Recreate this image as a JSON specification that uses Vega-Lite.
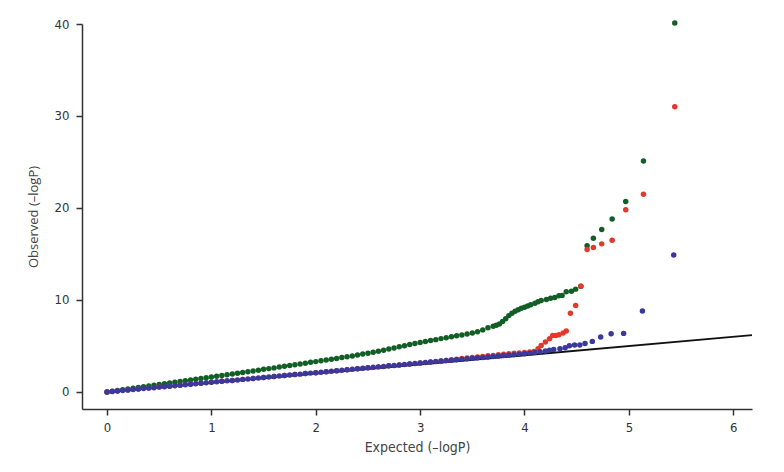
{
  "$schema": "https://vega.github.io/schema/vega-lite/v6.json",
  "width": 670,
  "height": 385,
  "autosize": {"type": "none"},
  "padding": {"left": 82, "top": 24, "right": 32, "bottom": 63},
  "background": "#ffffff",
  "config": {
    "view": {"stroke": null},
    "axis": {
      "grid": false,
      "domainColor": "#333333",
      "domainWidth": 1.5,
      "tickColor": "#333333",
      "tickWidth": 1.5,
      "tickSize": 6,
      "labelFont": "DejaVu Sans Condensed, Roboto, sans-serif",
      "labelFontSize": 13,
      "labelColor": "#333333",
      "titleFont": "DejaVu Sans Condensed, Roboto, sans-serif",
      "titleFontSize": 14,
      "titleFontWeight": "normal",
      "titleColor": "#444444"
    }
  },
  "datasets": {
    "diag": [{"x": 0, "y": 0}, {"x": 6.18, "y": 6.18}],
    "pts": [
      {"s":"green","x":0.00,"y":0.00},{"s":"green","x":0.05,"y":0.08},{"s":"green","x":0.10,"y":0.16},{"s":"green","x":0.15,"y":0.24},{"s":"green","x":0.20,"y":0.32},{"s":"green","x":0.25,"y":0.40},{"s":"green","x":0.30,"y":0.48},{"s":"green","x":0.35,"y":0.56},{"s":"green","x":0.40,"y":0.64},{"s":"green","x":0.45,"y":0.73},{"s":"green","x":0.50,"y":0.81},{"s":"green","x":0.55,"y":0.89},{"s":"green","x":0.60,"y":0.97},{"s":"green","x":0.65,"y":1.05},{"s":"green","x":0.70,"y":1.13},{"s":"green","x":0.75,"y":1.21},{"s":"green","x":0.80,"y":1.30},{"s":"green","x":0.85,"y":1.38},{"s":"green","x":0.90,"y":1.46},{"s":"green","x":0.95,"y":1.54},{"s":"green","x":1.00,"y":1.63},{"s":"green","x":1.05,"y":1.71},{"s":"green","x":1.10,"y":1.79},{"s":"green","x":1.15,"y":1.87},{"s":"green","x":1.20,"y":1.96},{"s":"green","x":1.25,"y":2.04},{"s":"green","x":1.30,"y":2.12},{"s":"green","x":1.35,"y":2.21},{"s":"green","x":1.40,"y":2.29},{"s":"green","x":1.45,"y":2.37},{"s":"green","x":1.50,"y":2.46},{"s":"green","x":1.55,"y":2.54},{"s":"green","x":1.60,"y":2.62},{"s":"green","x":1.65,"y":2.71},{"s":"green","x":1.70,"y":2.79},{"s":"green","x":1.75,"y":2.88},{"s":"green","x":1.80,"y":2.96},{"s":"green","x":1.85,"y":3.05},{"s":"green","x":1.90,"y":3.13},{"s":"green","x":1.95,"y":3.22},{"s":"green","x":2.00,"y":3.30},{"s":"green","x":2.05,"y":3.39},{"s":"green","x":2.10,"y":3.48},{"s":"green","x":2.15,"y":3.56},{"s":"green","x":2.20,"y":3.65},{"s":"green","x":2.25,"y":3.74},{"s":"green","x":2.30,"y":3.82},{"s":"green","x":2.35,"y":3.92},{"s":"green","x":2.40,"y":4.02},{"s":"green","x":2.45,"y":4.12},{"s":"green","x":2.50,"y":4.22},{"s":"green","x":2.55,"y":4.32},{"s":"green","x":2.60,"y":4.42},{"s":"green","x":2.65,"y":4.54},{"s":"green","x":2.70,"y":4.66},{"s":"green","x":2.75,"y":4.78},{"s":"green","x":2.80,"y":4.91},{"s":"green","x":2.85,"y":5.03},{"s":"green","x":2.90,"y":5.15},{"s":"green","x":2.95,"y":5.27},{"s":"green","x":3.00,"y":5.38},{"s":"green","x":3.05,"y":5.49},{"s":"green","x":3.10,"y":5.59},{"s":"green","x":3.15,"y":5.69},{"s":"green","x":3.20,"y":5.80},{"s":"green","x":3.25,"y":5.90},{"s":"green","x":3.30,"y":6.00},{"s":"green","x":3.35,"y":6.10},{"s":"green","x":3.40,"y":6.20},{"s":"green","x":3.45,"y":6.30},{"s":"green","x":3.50,"y":6.40},{"s":"green","x":3.55,"y":6.55},{"s":"green","x":3.60,"y":6.75},{"s":"green","x":3.65,"y":6.97},{"s":"green","x":3.70,"y":7.15},{"s":"green","x":3.73,"y":7.25},{"s":"green","x":3.76,"y":7.40},{"s":"green","x":3.79,"y":7.65},{"s":"green","x":3.82,"y":7.95},{"s":"green","x":3.85,"y":8.30},{"s":"green","x":3.88,"y":8.55},{"s":"green","x":3.91,"y":8.78},{"s":"green","x":3.94,"y":8.95},{"s":"green","x":3.97,"y":9.10},{"s":"green","x":4.00,"y":9.22},{"s":"green","x":4.03,"y":9.35},{"s":"green","x":4.06,"y":9.48},{"s":"green","x":4.10,"y":9.65},{"s":"green","x":4.13,"y":9.80},{"s":"green","x":4.16,"y":9.95},{"s":"green","x":4.21,"y":10.05},{"s":"green","x":4.25,"y":10.20},{"s":"green","x":4.29,"y":10.27},{"s":"green","x":4.33,"y":10.46},{"s":"green","x":4.36,"y":10.50},{"s":"green","x":4.40,"y":10.90},{"s":"green","x":4.45,"y":10.95},{"s":"green","x":4.49,"y":11.18},{"s":"green","x":4.54,"y":11.50},{"s":"green","x":4.60,"y":15.9},{"s":"green","x":4.66,"y":16.7},{"s":"green","x":4.74,"y":17.65},{"s":"green","x":4.84,"y":18.8},{"s":"green","x":4.97,"y":20.7},{"s":"green","x":5.14,"y":25.1},{"s":"green","x":5.44,"y":40.1},
      {"s":"red","x":0.0,"y":0.0},{"s":"red","x":0.1,"y":0.11},{"s":"red","x":0.2,"y":0.21},{"s":"red","x":0.3,"y":0.32},{"s":"red","x":0.4,"y":0.42},{"s":"red","x":0.5,"y":0.53},{"s":"red","x":0.6,"y":0.63},{"s":"red","x":0.7,"y":0.74},{"s":"red","x":0.8,"y":0.84},{"s":"red","x":0.9,"y":0.95},{"s":"red","x":1.0,"y":1.05},{"s":"red","x":1.1,"y":1.16},{"s":"red","x":1.2,"y":1.26},{"s":"red","x":1.3,"y":1.37},{"s":"red","x":1.4,"y":1.47},{"s":"red","x":1.5,"y":1.58},{"s":"red","x":1.6,"y":1.68},{"s":"red","x":1.7,"y":1.79},{"s":"red","x":1.8,"y":1.89},{"s":"red","x":1.9,"y":2.00},{"s":"red","x":2.0,"y":2.10},{"s":"red","x":2.1,"y":2.21},{"s":"red","x":2.2,"y":2.31},{"s":"red","x":2.3,"y":2.42},{"s":"red","x":2.4,"y":2.52},{"s":"red","x":2.5,"y":2.63},{"s":"red","x":2.6,"y":2.73},{"s":"red","x":2.7,"y":2.84},{"s":"red","x":2.8,"y":2.94},{"s":"red","x":2.9,"y":3.05},{"s":"red","x":3.0,"y":3.15},{"s":"red","x":3.1,"y":3.26},{"s":"red","x":3.2,"y":3.37},{"s":"red","x":3.25,"y":3.43},{"s":"red","x":3.30,"y":3.50},{"s":"red","x":3.35,"y":3.56},{"s":"red","x":3.40,"y":3.63},{"s":"red","x":3.45,"y":3.69},{"s":"red","x":3.50,"y":3.75},{"s":"red","x":3.55,"y":3.81},{"s":"red","x":3.60,"y":3.87},{"s":"red","x":3.65,"y":3.93},{"s":"red","x":3.70,"y":3.98},{"s":"red","x":3.75,"y":4.04},{"s":"red","x":3.80,"y":4.10},{"s":"red","x":3.85,"y":4.15},{"s":"red","x":3.90,"y":4.20},{"s":"red","x":3.95,"y":4.25},{"s":"red","x":4.00,"y":4.30},{"s":"red","x":4.05,"y":4.35},{"s":"red","x":4.09,"y":4.40},{"s":"red","x":4.13,"y":4.70},{"s":"red","x":4.16,"y":5.06},{"s":"red","x":4.20,"y":5.43},{"s":"red","x":4.24,"y":5.79},{"s":"red","x":4.27,"y":6.15},{"s":"red","x":4.30,"y":6.15},{"s":"red","x":4.33,"y":6.22},{"s":"red","x":4.37,"y":6.40},{"s":"red","x":4.40,"y":6.62},{"s":"red","x":4.44,"y":8.57},{"s":"red","x":4.49,"y":9.40},{"s":"red","x":4.54,"y":11.5},{"s":"red","x":4.60,"y":15.5},{"s":"red","x":4.66,"y":15.7},{"s":"red","x":4.74,"y":16.1},{"s":"red","x":4.84,"y":16.5},{"s":"red","x":4.97,"y":19.8},{"s":"red","x":5.14,"y":21.5},{"s":"red","x":5.44,"y":31.0},
      {"s":"blue","x":0.00,"y":0.00},{"s":"blue","x":0.05,"y":0.05},{"s":"blue","x":0.10,"y":0.11},{"s":"blue","x":0.15,"y":0.16},{"s":"blue","x":0.20,"y":0.21},{"s":"blue","x":0.25,"y":0.26},{"s":"blue","x":0.30,"y":0.32},{"s":"blue","x":0.35,"y":0.37},{"s":"blue","x":0.40,"y":0.42},{"s":"blue","x":0.45,"y":0.47},{"s":"blue","x":0.50,"y":0.53},{"s":"blue","x":0.55,"y":0.58},{"s":"blue","x":0.60,"y":0.63},{"s":"blue","x":0.65,"y":0.68},{"s":"blue","x":0.70,"y":0.74},{"s":"blue","x":0.75,"y":0.79},{"s":"blue","x":0.80,"y":0.84},{"s":"blue","x":0.85,"y":0.89},{"s":"blue","x":0.90,"y":0.95},{"s":"blue","x":0.95,"y":1.00},{"s":"blue","x":1.00,"y":1.05},{"s":"blue","x":1.05,"y":1.10},{"s":"blue","x":1.10,"y":1.16},{"s":"blue","x":1.15,"y":1.21},{"s":"blue","x":1.20,"y":1.26},{"s":"blue","x":1.25,"y":1.31},{"s":"blue","x":1.30,"y":1.37},{"s":"blue","x":1.35,"y":1.42},{"s":"blue","x":1.40,"y":1.47},{"s":"blue","x":1.45,"y":1.52},{"s":"blue","x":1.50,"y":1.58},{"s":"blue","x":1.55,"y":1.63},{"s":"blue","x":1.60,"y":1.68},{"s":"blue","x":1.65,"y":1.73},{"s":"blue","x":1.70,"y":1.79},{"s":"blue","x":1.75,"y":1.84},{"s":"blue","x":1.80,"y":1.89},{"s":"blue","x":1.85,"y":1.94},{"s":"blue","x":1.90,"y":2.00},{"s":"blue","x":1.95,"y":2.05},{"s":"blue","x":2.00,"y":2.10},{"s":"blue","x":2.05,"y":2.15},{"s":"blue","x":2.10,"y":2.21},{"s":"blue","x":2.15,"y":2.26},{"s":"blue","x":2.20,"y":2.31},{"s":"blue","x":2.25,"y":2.36},{"s":"blue","x":2.30,"y":2.42},{"s":"blue","x":2.35,"y":2.47},{"s":"blue","x":2.40,"y":2.52},{"s":"blue","x":2.45,"y":2.57},{"s":"blue","x":2.50,"y":2.63},{"s":"blue","x":2.55,"y":2.68},{"s":"blue","x":2.60,"y":2.73},{"s":"blue","x":2.65,"y":2.78},{"s":"blue","x":2.70,"y":2.84},{"s":"blue","x":2.75,"y":2.89},{"s":"blue","x":2.80,"y":2.94},{"s":"blue","x":2.85,"y":2.99},{"s":"blue","x":2.90,"y":3.05},{"s":"blue","x":2.95,"y":3.10},{"s":"blue","x":3.00,"y":3.15},{"s":"blue","x":3.05,"y":3.20},{"s":"blue","x":3.10,"y":3.26},{"s":"blue","x":3.15,"y":3.31},{"s":"blue","x":3.20,"y":3.36},{"s":"blue","x":3.25,"y":3.41},{"s":"blue","x":3.30,"y":3.46},{"s":"blue","x":3.35,"y":3.51},{"s":"blue","x":3.40,"y":3.56},{"s":"blue","x":3.45,"y":3.61},{"s":"blue","x":3.50,"y":3.66},{"s":"blue","x":3.55,"y":3.71},{"s":"blue","x":3.60,"y":3.76},{"s":"blue","x":3.65,"y":3.81},{"s":"blue","x":3.70,"y":3.86},{"s":"blue","x":3.75,"y":3.91},{"s":"blue","x":3.80,"y":3.96},{"s":"blue","x":3.85,"y":4.01},{"s":"blue","x":3.90,"y":4.06},{"s":"blue","x":3.95,"y":4.11},{"s":"blue","x":4.00,"y":4.16},{"s":"blue","x":4.05,"y":4.22},{"s":"blue","x":4.10,"y":4.29},{"s":"blue","x":4.15,"y":4.37},{"s":"blue","x":4.20,"y":4.46},{"s":"blue","x":4.24,"y":4.55},{"s":"blue","x":4.28,"y":4.63},{"s":"blue","x":4.34,"y":4.70},{"s":"blue","x":4.39,"y":4.81},{"s":"blue","x":4.43,"y":5.03},{"s":"blue","x":4.48,"y":5.10},{"s":"blue","x":4.53,"y":5.10},{"s":"blue","x":4.58,"y":5.28},{"s":"blue","x":4.65,"y":5.50},{"s":"blue","x":4.73,"y":5.97},{"s":"blue","x":4.83,"y":6.33},{"s":"blue","x":4.95,"y":6.37},{"s":"blue","x":5.13,"y":8.8},{"s":"blue","x":5.43,"y":14.9}
    ]
  },
  "layer": [
    {
      "data": {"name": "diag"},
      "mark": {"type": "line", "color": "#111111", "strokeWidth": 2},
      "encoding": {
        "x": {"field": "x", "type": "quantitative", "scale": {"domain": [-0.24, 6.18], "nice": false, "zero": false},
              "axis": {"values": [0, 1, 2, 3, 4, 5, 6], "format": "d", "title": "Expected (\u2013logP)", "labelPadding": 6, "titlePadding": 6}},
        "y": {"field": "y", "type": "quantitative", "scale": {"domain": [-1.85, 40], "nice": false, "zero": false},
              "axis": {"values": [0, 10, 20, 30, 40], "format": "d", "title": "Observed (\u2013logP)", "labelPadding": 7, "titlePadding": 14, "titleFont": "Open Sans, sans-serif", "titleFontSize": 13}}
      }
    },
    {
      "data": {"name": "pts"},
      "mark": {"type": "point", "filled": true, "size": 30, "opacity": 1},
      "encoding": {
        "x": {"field": "x", "type": "quantitative"},
        "y": {"field": "y", "type": "quantitative"},
        "color": {"field": "s", "type": "nominal", "legend": null,
                  "scale": {"domain": ["green", "red", "blue"], "range": ["#125f26", "#e6372d", "#3a389c"]}}
      }
    }
  ]
}
